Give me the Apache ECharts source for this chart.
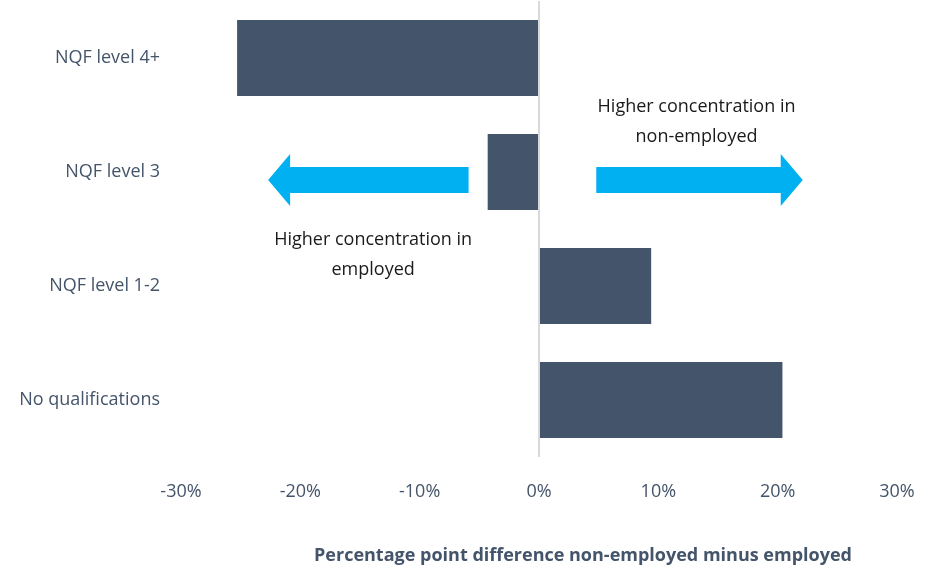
<!DOCTYPE html>
<html>
<head>
<meta charset="utf-8">
<script src="https://cdn.jsdelivr.net/npm/echarts@6/dist/echarts.min.js"></script>
<style>
html,body{margin:0;padding:0;background:#fff;}
#c{width:934px;height:567px;}
</style>
</head>
<body>
<div id="c"></div>
<script>
var categories = ['NQF level 4+', 'NQF level 3', 'NQF level 1-2', 'No qualifications'];
var values = [-25.3, -4.3, 9.4, 20.4];
var xTicks = [-30, -20, -10, 0, 10, 20, 30];
var axisTitle = 'Percentage point difference non-employed minus employed';
var leftNote = ['Higher concentration in', 'employed'];
var rightNote = ['Higher concentration in', 'non-employed'];
// arrow extents in axis units (annotation), anchored at the NQF level 3 row
var leftArrow = [-5.9, -22.7];
var rightArrow = [4.8, 22.1];

var FONT = '"Open Sans", sans-serif';
var chart = echarts.init(document.getElementById('c'));
chart.setOption({
  animation: false,
  grid: { left: 181, right: 37, top: 1, bottom: 110, containLabel: false },
  xAxis: {
    type: 'value', min: xTicks[0], max: xTicks[xTicks.length - 1], interval: 10,
    axisLine: { show: false }, axisTick: { show: false }, splitLine: { show: false },
    axisLabel: { margin: 26, color: '#44546a', fontSize: 18, fontFamily: FONT,
      formatter: function (v) { return v + '%'; } }
  },
  yAxis: {
    type: 'category', data: categories, inverse: true,
    axisLine: { show: false }, axisTick: { show: false }, splitLine: { show: false },
    axisLabel: { margin: 21, color: '#44546a', fontSize: 18, fontFamily: FONT }
  },
  series: [{
    type: 'bar', data: values, barWidth: 76,
    itemStyle: { color: '#44546a' },
    z: 3,
    markLine: {
      silent: true, symbol: 'none', label: { show: false },
      lineStyle: { color: '#d9d9d9', width: 2, type: 'solid' },
      data: [{ xAxis: 0 }]
    }
  }]
});

function arrow(x0, x1, yc) {
  var dir = x1 > x0 ? 1 : -1;
  var headLen = 22 * dir;
  var sh = 13, hh = 26;
  var xb = x1 - headLen;
  return [[x0, yc - sh], [xb, yc - sh], [xb, yc - hh], [x1, yc], [xb, yc + hh], [xb, yc + sh], [x0, yc + sh]];
}
var yRow = chart.convertToPixel({ yAxisIndex: 0 }, 'NQF level 3') + 8;
var la0 = chart.convertToPixel({ xAxisIndex: 0 }, leftArrow[0]);
var la1 = chart.convertToPixel({ xAxisIndex: 0 }, leftArrow[1]);
var ra0 = chart.convertToPixel({ xAxisIndex: 0 }, rightArrow[0]);
var ra1 = chart.convertToPixel({ xAxisIndex: 0 }, rightArrow[1]);
var lcx = chart.convertToPixel({ xAxisIndex: 0 }, -13.9);
var rcx = chart.convertToPixel({ xAxisIndex: 0 }, 13.2);
chart.setOption({
  graphic: [
    { type: 'text', x: 583, y: 556, style: { text: axisTitle, fill: '#44546a', fontSize: 18, fontWeight: 'bold', fontFamily: FONT, align: 'center', verticalAlign: 'middle' } },
    { type: 'polygon', shape: { points: arrow(la0, la1, yRow) }, style: { fill: '#00b0f0' } },
    { type: 'polygon', shape: { points: arrow(ra0, ra1, yRow) }, style: { fill: '#00b0f0' } },
    { type: 'text', x: lcx, y: 225, style: { text: leftNote.join('\n'), fill: '#1a1a1a', fontSize: 18, lineHeight: 30, fontFamily: FONT, align: 'center', verticalAlign: 'top' } },
    { type: 'text', x: rcx, y: 92, style: { text: rightNote.join('\n'), fill: '#1a1a1a', fontSize: 18, lineHeight: 30, fontFamily: FONT, align: 'center', verticalAlign: 'top' } }
  ]
});
</script>
</body>
</html>
